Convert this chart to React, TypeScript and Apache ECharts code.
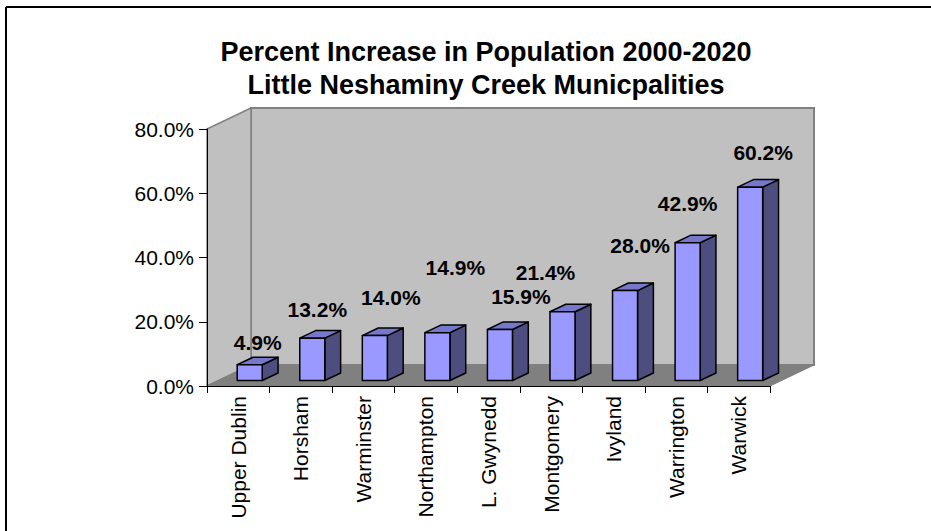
import React, { useEffect, useRef } from "react";
import * as echarts from "echarts";

const categories = [
  "Upper Dublin",
  "Horsham",
  "Warminster",
  "Northampton",
  "L. Gwynedd",
  "Montgomery",
  "Ivyland",
  "Warrington",
  "Warwick",
];
const percentIncrease = [4.9, 13.2, 14.0, 14.9, 15.9, 21.4, 28.0, 42.9, 60.2];
const valueTicks = [0, 20, 40, 60, 80];

// label nudges (layout tweaks, px) to mimic the hand-placed Excel labels
const labelNudge: [number, number][] = [
  [-2, 14], [-5, 7], [6, -2], [8, -29], [11, 3], [-27, -3], [5, -9], [-10, -3], [3, 1],
];

const FONT = "'Liberation Sans', Arial, sans-serif";
const DEPTH_X = 44;
const DEPTH_Y = -21;
const F0 = 0.26; // bar front position in depth fraction
const FD = 0.36; // bar depth fraction

export default function App() {
  const ref = useRef<HTMLDivElement>(null);
  useEffect(() => {
    if (!ref.current) return;
    const chart = echarts.init(ref.current, undefined, { renderer: "svg" });
    const option: any = {
      animation: false,
      backgroundColor: "#ffffff",
      title: {
        text: "Percent Increase in Population 2000-2020\nLittle Neshaminy Creek Municpalities",
        left: 481,
        top: 30,
        textAlign: "center",
        textStyle: {
          fontFamily: FONT,
          fontSize: 27,
          fontWeight: "bold",
          color: "#000",
          lineHeight: 33,
        },
      },
      graphic: [
        { type: "line", shape: { x1: 6, y1: 7, x2: 931, y2: 7 }, style: { stroke: "#000", lineWidth: 2 } },
        { type: "line", shape: { x1: 6, y1: 7, x2: 6, y2: 531 }, style: { stroke: "#000", lineWidth: 2 } },
      ],
      grid: { left: 207, top: 129, width: 563, height: 257, containLabel: false },
      xAxis: {
        type: "category",
        data: categories,
        z: 10,
        axisLine: { show: true, lineStyle: { color: "#000", width: 1 } },
        axisTick: { show: true, length: 7, lineStyle: { color: "#000" } },
        axisLabel: {
          rotate: 90,
          margin: 10,
          fontFamily: FONT,
          fontSize: 21,
          color: "#000",
          interval: 0,
        },
        splitLine: { show: false },
      },
      yAxis: {
        type: "value",
        min: valueTicks[0],
        max: valueTicks[valueTicks.length - 1],
        interval: 20,
        z: 10,
        axisLine: { show: true, lineStyle: { color: "#000", width: 1 } },
        axisTick: { show: true, length: 8, lineStyle: { color: "#000" } },
        axisLabel: {
          margin: 13,
          fontFamily: FONT,
          fontSize: 21,
          color: "#000",
          formatter: (v: number) => v.toFixed(1) + "%",
        },
        splitLine: { show: false },
      },
      series: [
        {
          type: "custom",
          z: 1,
          silent: true,
          data: [0],
          renderItem: (params: any) => {
            const cs = params.coordSys;
            const L = cs.x, T = cs.y, R = cs.x + cs.width, B = cs.y + cs.height;
            return {
              type: "group",
              children: [
                {
                  type: "rect",
                  shape: { x: L + DEPTH_X, y: T + DEPTH_Y, width: R - L, height: B - T },
                  style: { fill: "#c0c0c0", stroke: "#808080", lineWidth: 2 },
                },
                {
                  type: "polygon",
                  shape: {
                    points: [
                      [L, T],
                      [L + DEPTH_X, T + DEPTH_Y],
                      [L + DEPTH_X, B + DEPTH_Y],
                      [L, B],
                    ],
                  },
                  style: { fill: "#c0c0c0", stroke: "#808080", lineWidth: 1.5 },
                },
                {
                  type: "polygon",
                  shape: {
                    points: [
                      [L, B],
                      [L + DEPTH_X, B + DEPTH_Y],
                      [R + DEPTH_X, B + DEPTH_Y],
                      [R, B],
                    ],
                  },
                  style: { fill: "#808080", stroke: "#808080", lineWidth: 1 },
                },
              ],
            };
          },
        },
        {
          type: "custom",
          z: 3,
          data: percentIncrease.map((v, i) => [i, v]),
          encode: { x: 0, y: 1 },
          renderItem: (params: any, api: any) => {
            const i = api.value(0);
            const v = api.value(1);
            const base = api.coord([i, 0]);
            const top = api.coord([i, v]);
            const band = api.size([1, 0])[0];
            const w = band * 0.4;
            const ox = F0 * DEPTH_X, oy = F0 * DEPTH_Y;
            const dx = FD * DEPTH_X, dy = FD * DEPTH_Y;
            const x0 = base[0] + ox - w / 2;
            const x1 = x0 + w;
            const yb = base[1] + oy;
            const yt = top[1] + oy;
            const stroke = { stroke: "#000", lineWidth: 1.5, lineJoin: "round" };
            const n = labelNudge[i] || [0, 0];
            return {
              type: "group",
              children: [
                {
                  type: "polygon",
                  shape: { points: [[x1, yb], [x1 + dx, yb + dy], [x1 + dx, yt + dy], [x1, yt]] },
                  style: { fill: "#4d4d80", ...stroke },
                },
                {
                  type: "polygon",
                  shape: { points: [[x0, yt], [x0 + dx, yt + dy], [x1 + dx, yt + dy], [x1, yt]] },
                  style: { fill: "#7777cc", ...stroke },
                },
                {
                  type: "rect",
                  shape: { x: x0, y: yt, width: w, height: yb - yt },
                  style: { fill: "#9999ff", ...stroke },
                },
                {
                  type: "text",
                  x: (x0 + x1) / 2 + 10 + n[0],
                  y: yt - 36 + n[1],
                  style: {
                    text: v.toFixed(1) + "%",
                    fontFamily: FONT,
                    fontSize: 21,
                    fontWeight: "bold",
                    fill: "#000",
                    align: "center",
                    verticalAlign: "middle",
                  },
                },
              ],
            };
          },
        },
      ],
    };
    chart.setOption(option);
    return () => chart.dispose();
  }, []);
  return (
    <div
      ref={ref}
      style={{ position: "fixed", left: 0, top: 0, width: 931, height: 531, background: "#fff" }}
    />
  );
}
